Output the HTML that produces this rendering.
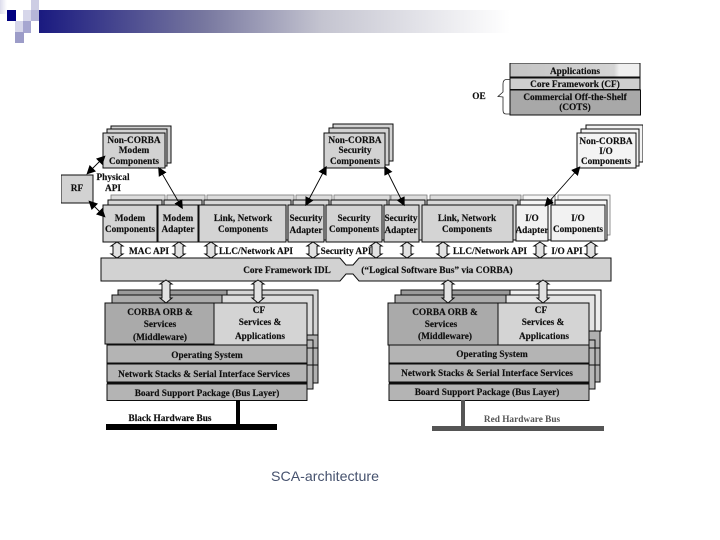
<!DOCTYPE html>
<html><head><meta charset="utf-8"><style>
html,body{margin:0;padding:0;background:#fff}
svg{display:block}
text{font-family:"Liberation Serif",serif;font-weight:bold;font-size:9.3px;fill:#111;stroke:#111;stroke-width:.15;text-anchor:middle}
.b{stroke:#111;stroke-width:1}
.da{fill:#e2e2e2;stroke:#111;stroke-width:1}
.ar{stroke:#000;stroke-width:.9;fill:none;marker-start:url(#m);marker-end:url(#m)}
</style></head><body>
<svg width="720" height="540" viewBox="0 0 720 540" xmlns="http://www.w3.org/2000/svg">
<defs>
<linearGradient id="hd"><stop offset="0" stop-color="#1a1a80"/><stop offset=".35" stop-color="#77779f"/><stop offset=".6" stop-color="#c4c4d0"/><stop offset="1" stop-color="#fff"/></linearGradient>
<linearGradient id="lf"><stop offset="0" stop-color="#dcdcec"/><stop offset="1" stop-color="#fff"/></linearGradient>
<linearGradient id="ap"><stop offset="0" stop-color="#c4c4c4"/><stop offset=".8" stop-color="#d4d4d4"/><stop offset=".84" stop-color="#efefef"/><stop offset="1" stop-color="#efefef"/></linearGradient>
<marker id="m" viewBox="0 0 10 10" refX="6" refY="5" markerWidth="9" markerHeight="9" orient="auto-start-reverse" markerUnits="userSpaceOnUse"><path d="M10 5L0 0V10Z" fill="#000"/></marker>
<filter id="s" x="0" y="0" width="100%" height="100%"><feGaussianBlur stdDeviation=".3"/></filter>
</defs>

<!-- header -->
<rect x="0" y="0" width="7" height="14" fill="url(#lf)"/>
<rect x="39" y="10" width="471" height="23" fill="url(#hd)"/>
<rect x="7" y="10" width="9" height="11" fill="#000080"/>
<rect x="31" y="0" width="8" height="10" fill="#cdcde4"/>
<rect x="23" y="10" width="8" height="11" fill="#d6d6ea"/>
<rect x="31" y="10" width="8" height="11" fill="#b6b6d8"/>
<rect x="15" y="21" width="8" height="11" fill="#d6d6ea"/>
<rect x="23" y="21" width="8" height="12" fill="#a6a6d0"/>
<rect x="15" y="32" width="9" height="11" fill="#9c9cc8"/>

<g filter="url(#s)">
<!-- OE legend -->
<rect class="b" x="510" y="63" width="130" height="14" fill="url(#ap)"/>
<rect class="b" x="510" y="78" width="130" height="11.500" fill="#cfcfcf"/>
<rect x="510" y="90" width="130.500" height="25" fill="#a8a8a8" stroke="#111" stroke-width="1"/>
<text x="575" y="74">Applications</text>
<text x="575" y="87">Core Framework (CF)</text>
<text x="575" y="100">Commercial Off-the-Shelf</text>
<text x="575" y="110">(COTS)</text>
<text x="479" y="99">OE</text>
<path d="M510 79.500H506Q503 80 503 84V92L498 96.500L503 97V110Q503 114 506 114H510" fill="none" stroke="#222" stroke-width=".8"/>

<!-- Non-CORBA stacks -->
<g class="b" fill="#d2d2d2">
<rect x="111" y="126" width="60" height="37"/><rect x="107" y="129" width="60" height="37"/><rect x="103" y="133" width="62" height="35"/>
<rect x="333" y="124" width="60" height="37"/><rect x="329" y="128" width="60" height="37"/><rect x="324" y="133" width="61" height="35"/>
</g>
<g class="b" fill="#f4f4f4">
<rect x="586" y="125" width="57" height="37"/><rect x="581" y="129" width="58" height="37"/><rect x="577" y="133" width="59" height="35"/>
</g>
<text x="134" y="143">Non-CORBA</text><text x="134" y="153">Modem</text><text x="134" y="164">Components</text>
<text x="355" y="143">Non-CORBA</text><text x="355" y="153">Security</text><text x="355" y="164">Components</text>
<text x="606" y="144">Non-CORBA</text><text x="606" y="154">I/O</text><text x="606" y="164">Components</text>

<!-- RF -->
<rect class="b" x="61" y="175" width="32" height="28" fill="#d2d2d2"/>
<text x="77" y="191">RF</text>
<text x="113" y="180">Physical</text><text x="113" y="191">API</text>

<!-- component back layers -->
<g stroke="#777" stroke-width=".8" fill="#dcdcdc">
<rect x="111" y="195" width="54" height="40"/>
<rect x="167" y="195" width="38" height="40"/>
<rect x="207" y="195" width="87" height="40"/>
<rect x="296" y="195" width="36" height="40"/>
<rect x="334" y="195" width="56" height="40"/>
<rect x="391" y="195" width="36" height="40"/>
<rect x="430" y="195" width="91" height="40"/>
</g>
<g class="b" fill="#d8d8d8">
<rect x="108" y="200" width="54" height="40"/>
<rect x="164" y="200" width="38" height="40"/>
<rect x="204" y="200" width="87" height="40"/>
<rect x="293" y="200" width="36" height="40"/>
<rect x="331" y="200" width="56" height="40"/>
<rect x="389" y="200" width="36" height="40"/>
<rect x="427" y="200" width="91" height="40"/>
</g>
<g stroke="#777" stroke-width=".8" fill="#f6f6f6">
<rect x="523" y="195" width="32" height="40"/>
<rect x="558" y="195" width="52" height="40"/>
</g>
<g class="b" fill="#f6f6f6">
<rect x="520" y="200" width="32" height="40"/>
<rect x="555" y="200" width="52" height="40"/>
</g>
<!-- component fronts -->
<g class="b" fill="#d4d4d4">
<rect x="103" y="205" width="54" height="37"/>
<rect x="158" y="205" width="40" height="37"/>
<rect x="199" y="205" width="87" height="37"/>
<rect x="288" y="205" width="36" height="37"/>
<rect x="326" y="205" width="56" height="37"/>
<rect x="384" y="205" width="35" height="37"/>
<rect x="422" y="205" width="91" height="37"/>
</g>
<g class="b" fill="#f2f2f2">
<rect x="516" y="205" width="32" height="36"/>
<rect x="551" y="205" width="54" height="36"/>
</g>
<text x="130" y="221">Modem</text><text x="130" y="232">Components</text>
<text x="178" y="221">Modem</text><text x="178" y="232">Adapter</text>
<text x="243" y="221">Link, Network</text><text x="243" y="232">Components</text>
<text x="306" y="221">Security</text><text x="306" y="233">Adapter</text>
<text x="354" y="221">Security</text><text x="354" y="232">Components</text>
<text x="401" y="221">Security</text><text x="401" y="233">Adapter</text>
<text x="467" y="221">Link, Network</text><text x="467" y="232">Components</text>
<text x="532" y="221">I/O</text><text x="532" y="233">Adapter</text>
<text x="578" y="221">I/O</text><text x="578" y="232">Components</text>

<!-- connectors -->
<path class="ar" d="M89 172L103 158"/>
<path class="ar" d="M91 203L103 215"/>
<path class="ar" d="M160 170L181 206"/>
<path class="ar" d="M325 169L307 203"/>
<path class="ar" d="M386 169L403 203"/>
<path class="ar" d="M578 169L547 204"/>

<!-- double arrows above bus -->
<g class="da">
<path d="M117 242l6 4h-2v8h2l-6 4l-6-4h2v-8h-2z"/>
<path d="M179 242l6 4h-2v8h2l-6 4l-6-4h2v-8h-2z"/>
<path d="M211 242l6 4h-2v8h2l-6 4l-6-4h2v-8h-2z"/>
<path d="M313 242l6 4h-2v8h2l-6 4l-6-4h2v-8h-2z"/>
<path d="M376 242l6 4h-2v8h2l-6 4l-6-4h2v-8h-2z"/>
<path d="M407 242l6 4h-2v8h2l-6 4l-6-4h2v-8h-2z"/>
<path d="M443 242l6 4h-2v8h2l-6 4l-6-4h2v-8h-2z"/>
<path d="M540 242l6 4h-2v8h2l-6 4l-6-4h2v-8h-2z"/>
<path d="M591 242l6 4h-2v8h2l-6 4l-6-4h2v-8h-2z"/>
</g>
<text x="149" y="254">MAC API</text>
<text x="256" y="254">LLC/Network API</text>
<text x="346" y="254">Security API</text>
<text x="490" y="254">LLC/Network API</text>
<text x="567" y="254">I/O API</text>

<!-- bus -->
<path class="b" fill="#d2d2d2" d="M101 258H340L346 265H353L359 258H611V281H359L353 274H346L340 281H101Z"/>
<text x="287" y="273">Core Framework IDL</text>
<text x="437" y="273" style="font-size:9.400px">(“Logical Software Bus” via CORBA)</text>

<!-- left hardware stack -->
<g class="b">
<rect x="118" y="290" width="109" height="45" fill="#9a9a9a"/>
<rect x="227" y="290" width="91" height="45" fill="#d4d4d4"/>
<rect x="112" y="295" width="110" height="40" fill="#aaa"/>
<rect x="222" y="295" width="91" height="40" fill="#dcdcdc"/>
<rect x="307" y="335" width="11" height="48" fill="#b0b0b0" stroke="#111"/>
<rect x="307" y="340" width="6" height="49" fill="#b8b8b8"/>
<path d="M307 348H318M307 365H318" fill="none"/>
<rect x="105" y="303" width="109" height="41" fill="#aaa"/>
<rect x="214" y="303" width="93" height="42" fill="#d4d4d4"/>
<rect x="107" y="345" width="200" height="18" fill="#b4b4b4"/>
<rect x="107" y="364" width="200" height="18" fill="#b4b4b4"/>
<rect x="107" y="384" width="200" height="16.500" fill="#b4b4b4"/>
</g>
<rect x="107" y="382" width="200" height="2" fill="#111"/>
<text x="160" y="315">CORBA ORB &amp;</text><text x="160" y="327">Services</text><text x="160" y="340">(Middleware)</text>
<text x="259" y="313">CF</text><text x="260" y="325">Services &amp;</text><text x="260" y="339">Applications</text>
<text x="207" y="358">Operating System</text>
<text x="204" y="377">Network Stacks &amp; Serial Interface Services</text>
<text x="207" y="396">Board Support Package (Bus Layer)</text>
<rect x="236" y="400" width="4" height="25" fill="#000"/>
<rect x="106" y="424" width="171" height="6" fill="#000"/>
<text x="170" y="421">Black Hardware Bus</text>

<!-- right hardware stack -->
<g class="b">
<rect x="401" y="290" width="109" height="41" fill="#9a9a9a"/>
<rect x="510" y="290" width="91" height="41" fill="#eee"/>
<rect x="395" y="295" width="111" height="36" fill="#aaa"/>
<rect x="506" y="295" width="89" height="36" fill="#e4e4e4"/>
<rect x="589" y="331" width="11" height="51" fill="#b0b0b0" stroke="#111"/>
<rect x="589" y="340" width="6" height="49" fill="#b8b8b8"/>
<path d="M589 348H600M589 365H600" fill="none"/>
<rect x="388" y="303" width="110" height="42" fill="#aaa"/>
<rect x="498" y="303" width="91" height="42" fill="#d4d4d4"/>
<rect x="389" y="345" width="200" height="18" fill="#b4b4b4"/>
<rect x="389" y="364" width="200" height="18" fill="#b4b4b4"/>
<rect x="389" y="384" width="200" height="16.500" fill="#b4b4b4"/>
</g>
<rect x="389" y="382" width="200" height="2" fill="#111"/>
<text x="445" y="315">CORBA ORB &amp;</text><text x="441" y="327">Services</text><text x="445" y="339">(Middleware)</text>
<text x="541" y="313">CF</text><text x="543" y="325">Services &amp;</text><text x="544" y="339">Applications</text>
<text x="492" y="357">Operating System</text>
<text x="487" y="376">Network Stacks &amp; Serial Interface Services</text>
<text x="487" y="395">Board Support Package (Bus Layer)</text>
<rect x="461" y="400" width="4" height="27" fill="#555"/>
<rect x="432" y="426" width="172" height="5" fill="#555"/>
<text x="522" y="422" style="fill:#555;stroke:none">Red Hardware Bus</text>

<!-- double arrows below bus -->
<g class="da">
<path d="M166 280l6 4h-2v14h2l-6 5l-6-5h2v-14h-2z"/>
<path d="M258 280l6 4h-2v14h2l-6 5l-6-5h2v-14h-2z"/>
<path d="M448 280l6 4h-2v14h2l-6 5l-6-5h2v-14h-2z"/>
<path d="M543 280l6 4h-2v14h2l-6 5l-6-5h2v-14h-2z"/>
</g>
</g>

<text x="271" y="481" style="font-family:'Liberation Sans',sans-serif;font-weight:normal;font-size:14px;text-anchor:start;fill:#46526e;stroke:none" textLength="108" lengthAdjust="spacingAndGlyphs">SCA-architecture</text>
</svg>
</body></html>
